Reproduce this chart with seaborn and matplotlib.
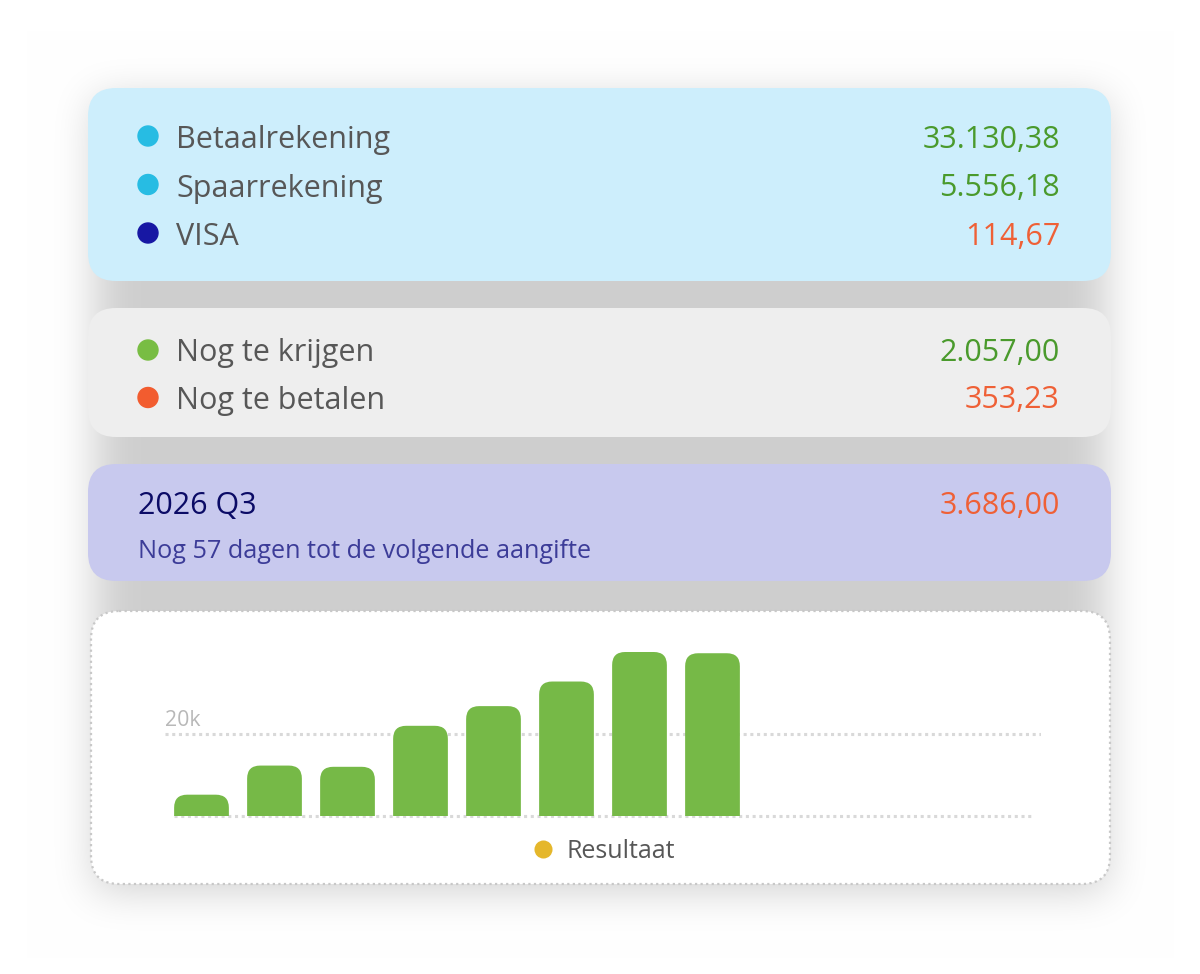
import numpy as np
import matplotlib
matplotlib.use("Agg")
import matplotlib.pyplot as plt
import seaborn as sns
from matplotlib.patches import FancyBboxPatch, Circle
from matplotlib.lines import Line2D

# --- data ---
rekeningen = ["Betaalrekening", "Spaarrekening", "VISA"]
rekening_bedragen = ["33.130,38", "5.556,18", "114,67"]
openstaand = ["Nog te krijgen", "Nog te betalen"]
openstaand_bedragen = ["2.057,00", "353,23"]
btw_periode = "2026 Q3"
btw_bedrag = "3.686,00"
btw_tekst = "Nog 57 dagen tot de volgende aangifte"

maanden = ["jan", "feb", "mrt", "apr", "mei", "jun",
           "jul", "aug", "sep", "okt", "nov", "dec"]
resultaat = [5200, 12300, 12000, 22000, 26800, 32800, 40000, 39700]

GROEN = "#4a9a2c"
ORANJE = "#ef6036"
GRIJS = "#575757"

sns.set_theme(style="white")
plt.rcParams["font.family"] = ["Open Sans", "DejaVu Sans"]

fig = plt.figure(figsize=(12, 9.74), dpi=100)
bg = fig.add_axes([0, 0, 1, 1])
bg.set_xlim(0, 1200)
bg.set_ylim(974, 0)
bg.axis("off")

# schaduw achter de kaarten
H, W = 974, 1200
yy, xx = np.mgrid[0:H, 0:W]
mask = ((xx > 94) & (xx < 1106) & (yy > 98) & (yy < 890)).astype(float)


def box_blur(a, r, axis):
    c = np.cumsum(np.pad(a, [(r + 1, r) if i == axis else (0, 0) for i in range(2)], mode="edge"), axis=axis)
    if axis == 0:
        return (c[2 * r + 1:, :] - c[:-2 * r - 1, :]) / (2 * r + 1)
    return (c[:, 2 * r + 1:] - c[:, :-2 * r - 1]) / (2 * r + 1)


for _ in range(4):
    mask = box_blur(mask, 17, 0)
    mask = box_blur(mask, 17, 1)
shade = 1 - 0.19 * mask
bg.imshow(np.dstack([shade] * 3), extent=(0, 1200, 974, 0), zorder=0)

kaarten = [
    (88, 88, 1023, 193, "#cdeefc"),
    (88, 308, 1023, 129, "#eeeeee"),
    (88, 464, 1023, 117, "#c8c9ee"),
]
for x, y, w, h, kleur in kaarten:
    bg.add_patch(FancyBboxPatch((x, y), w, h, boxstyle="round,pad=0,rounding_size=28",
                                facecolor=kleur, edgecolor="none", zorder=1))
bg.add_patch(FancyBboxPatch((91, 611), 1019, 273, boxstyle="round,pad=0,rounding_size=28",
                            facecolor="white", edgecolor="#c8c8c8", linewidth=1.6,
                            linestyle=(0, (1, 1.5)), zorder=1))

# kaart 1
stip_kleuren = ["#27bce3", "#27bce3", "#1717a3"]
for i, (naam, bedrag) in enumerate(zip(rekeningen, rekening_bedragen)):
    yb = 148 + i * 48.5
    bg.add_patch(Circle((148, yb - 12), 10, color=stip_kleuren[i], zorder=2))
    bg.text(176, yb, naam, fontsize=22, color=GRIJS, va="baseline", zorder=3)
    bg.text(1060, yb, bedrag, fontsize=22, va="baseline", ha="right",
            color=ORANJE if i == 2 else GROEN, zorder=3)

# kaart 2
stip2 = ["#78bd43", "#f25c2f"]
for i, (naam, bedrag) in enumerate(zip(openstaand, openstaand_bedragen)):
    yb = 361 + i * 47.5
    bg.add_patch(Circle((148, yb - 11), 10, color=stip2[i], zorder=2))
    bg.text(176, yb, naam, fontsize=22, color=GRIJS, va="baseline", zorder=3)
    bg.text(1060, yb, bedrag, fontsize=22, va="baseline", ha="right",
            color=GROEN if i == 0 else ORANJE, zorder=3)

# kaart 3
bg.text(138, 514, btw_periode, fontsize=22, color="#0b0b66", va="baseline", zorder=3)
bg.text(1060, 514, btw_bedrag, fontsize=22, color=ORANJE, va="baseline", ha="right", zorder=3)
bg.text(138, 558, btw_tekst, fontsize=18.2, color="#3c3c98", va="baseline", zorder=3)

# kaart 4: staafdiagram
ax = fig.add_axes([165 / 1200, (974 - 816) / 974, 876 / 1200, 176.3 / 974])
ax.patch.set_alpha(0)
sns.barplot(x=maanden[:len(resultaat)], y=resultaat, order=maanden,
            color="#76b947", width=0.75, saturation=1, ax=ax, zorder=3)
ax.set_xlim(-0.5, 11.5)
ax.set_ylim(0, 43000)
for s in ax.spines.values():
    s.set_visible(False)
ax.set_xticks([])
ax.set_yticks([])
ax.set_xlabel("")
ax.set_ylabel("")

ax.axhline(20000, color="#d9d9d9", linewidth=2.2, linestyle=(0, (1, 1.2)), zorder=1)
ax.axhline(0, xmin=0.01, xmax=0.99, color="#d9d9d9", linewidth=2.2,
           linestyle=(0, (1, 1.2)), zorder=1, clip_on=False)
ax.text(0, 20000 + 1900, "20k", transform=ax.get_yaxis_transform(),
        fontsize=15.3, color="#b8b8b8", va="baseline", ha="left")

# afgeronde bovenkant van de staven
fig.canvas.draw()
px_x = ax.transData.transform((1, 0))[0] - ax.transData.transform((0, 0))[0]
px_y = ax.transData.transform((0, 1000))[1] - ax.transData.transform((0, 0))[1]
aspect = (1000 / px_y) / (1 / px_x)
r = 13 / px_x
for bar in list(ax.patches):
    bx, bw, bh = bar.get_x(), bar.get_width(), bar.get_height()
    fc = bar.get_facecolor()
    bar.remove()
    ax.add_patch(FancyBboxPatch((bx, -8000), bw, bh + 8000,
                                boxstyle=f"round,pad=0,rounding_size={r}",
                                mutation_aspect=aspect, facecolor=fc,
                                edgecolor="none", zorder=3))

handle = Line2D([], [], marker="o", linestyle="none", markersize=13,
                markerfacecolor="#e5b72b", markeredgecolor="none")
ax.legend([handle], ["Resultaat"], loc="upper center", bbox_to_anchor=(0.5, 0.0),
          frameon=False, fontsize=18, labelcolor=GRIJS, handlelength=1.0,
          handletextpad=0.45)

fig.savefig("out.png", dpi=100)
